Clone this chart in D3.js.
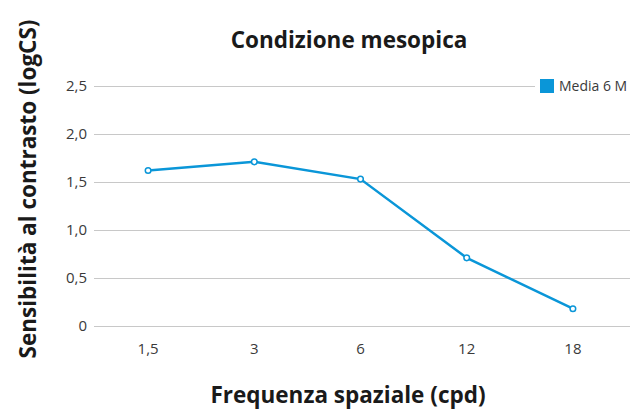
<!DOCTYPE html>
<html>
<head>
<meta charset="utf-8">
<script src="https://cdn.jsdelivr.net/npm/d3@7"></script>
<style>
body { margin: 0; background: #fff; }
text { font-family: "Open Sans", "Noto Sans", sans-serif; }
.grid line { stroke: #c8c8c8; stroke-width: 1; }
.tick-lbl { font-size: 15px; fill: #3a3a3a; }
.leg-lbl { font-size: 14px; fill: #3a3a3a; }
.ttl { font-weight: bold; font-size: 22.5px; fill: #1a1a1a; }
</style>
</head>
<body>
<div id="chart"></div>
<script>
// data
var categories = ["1,5", "3", "6", "12", "18"];
var values = [1.62, 1.71, 1.53, 0.71, 0.18];
var yTicks = [0, 0.5, 1.0, 1.5, 2.0, 2.5];
var seriesName = "Media 6 M";

var width = 643, height = 409;
var blue = "#0a96d8";

var svg = d3.select('#chart')
  .append('svg')
  .attr('width', width)
  .attr('height', height);

var x = d3.scaleBand()
  .domain(categories)
  .range([95, 626]);

var y = d3.scaleLinear()
  .domain([0, 2.5])
  .range([326, 86]);

function fmt(v) {
  return v == 0 ? "0" : d3.format(".1f")(v).replace(".", ",");
}

// gridlines (top one stops before the legend)
svg.append('g').attr('class', 'grid')
  .selectAll('line')
  .data(yTicks)
  .enter().append('line')
    .attr('x1', 94)
    .attr('x2', function(d){ return d == 2.5 ? 535 : 630; })
    .attr('y1', function(d){ return Math.round(y(d)) + 0.5; })
    .attr('y2', function(d){ return Math.round(y(d)) + 0.5; });

// y tick labels
svg.selectAll('.ylbl')
  .data(yTicks)
  .enter().append('text')
    .attr('class', 'tick-lbl')
    .attr('x', 87)
    .attr('y', function(d){ return y(d); })
    .attr('dy', '.35em')
    .attr('text-anchor', 'end')
    .text(fmt);

// x tick labels
svg.selectAll('.xlbl')
  .data(categories)
  .enter().append('text')
    .attr('class', 'tick-lbl')
    .attr('x', function(d){ return x(d) + x.bandwidth() / 2; })
    .attr('y', 354)
    .attr('text-anchor', 'middle')
    .text(function(d){ return d; });

// line
var line = d3.line()
  .x(function(d, i){ return x(categories[i]) + x.bandwidth() / 2; })
  .y(function(d){ return y(d); });

svg.append('path')
  .datum(values)
  .attr('d', line)
  .attr('fill', 'none')
  .attr('stroke', blue)
  .attr('stroke-width', 2.5);

svg.selectAll('.dot')
  .data(values)
  .enter().append('circle')
    .attr('cx', function(d, i){ return x(categories[i]) + x.bandwidth() / 2; })
    .attr('cy', function(d){ return y(d); })
    .attr('r', 2.8)
    .attr('fill', '#fff')
    .attr('stroke', blue)
    .attr('stroke-width', 1.5);

// legend
svg.append('rect')
  .attr('x', 540).attr('y', 79)
  .attr('width', 14).attr('height', 14)
  .attr('fill', blue);
svg.append('text')
  .attr('class', 'leg-lbl')
  .attr('x', 559).attr('y', 86)
  .attr('dy', '.35em')
  .text(seriesName);

// titles
svg.append('text')
  .attr('class', 'ttl')
  .attr('x', 349).attr('y', 48)
  .attr('text-anchor', 'middle')
  .text('Condizione mesopica');

svg.append('text')
  .attr('class', 'ttl')
  .attr('x', 348).attr('y', 403)
  .attr('text-anchor', 'middle')
  .text('Frequenza spaziale (cpd)');

svg.append('text')
  .attr('class', 'ttl')
  .attr('transform', 'translate(36,189) rotate(-90)')
  .attr('text-anchor', 'middle')
  .text('Sensibilità al contrasto (logCS)');
</script>
</body>
</html>
